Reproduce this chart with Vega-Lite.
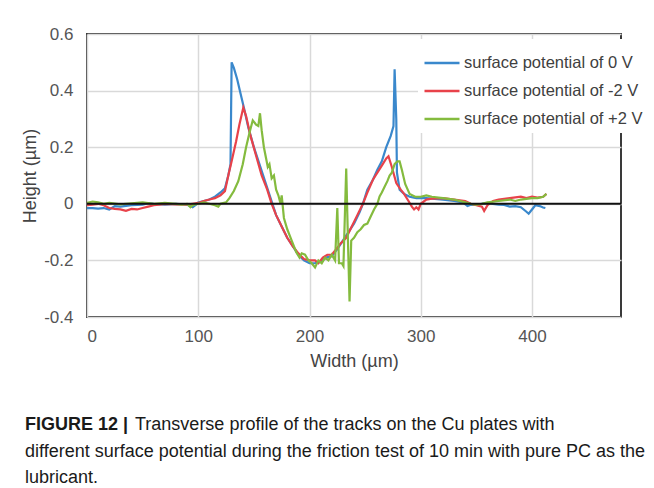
{
  "$schema": "https://vega.github.io/schema/vega-lite/v6.json",
  "autosize": "none",
  "width": 534,
  "height": 283,
  "padding": {"left": 87, "top": 34, "right": 33, "bottom": 171},
  "background": "white",
  "config": {
    "font": "Liberation Sans",
    "view": {"stroke": "#3a3a3a", "strokeWidth": 2},
    "axis": {"labelFont": "Liberation Sans", "titleFont": "Liberation Sans", "labelFontSize": 17, "titleFontSize": 18, "labelColor": "#555555", "titleColor": "#444444", "titleFontWeight": "normal", "gridColor": "#d9d9d9", "gridWidth": 1.5, "ticks": false, "domain": false}
  },
  "title": {
    "text": "FIGURE 12 |",
    "orient": "bottom",
    "anchor": "start",
    "frame": "group",
    "dx": -62,
    "offset": 46,
    "font": "Liberation Sans",
    "fontSize": 18,
    "fontWeight": "bold",
    "color": "#1a1a1a",
    "subtitle": ["\u200b\u00a0\u00a0\u00a0\u00a0\u00a0\u00a0\u00a0\u00a0\u00a0\u00a0\u00a0\u00a0\u00a0\u00a0\u00a0\u00a0\u00a0\u00a0\u00a0\u00a0\u00a0\u00a0Transverse profile of the tracks on the Cu plates with", "different surface potential during the friction test of 10 min with pure PC as the", "lubricant."],
    "subtitleFont": "Liberation Sans",
    "subtitleFontSize": 18,
    "subtitleColor": "#1a1a1a",
    "subtitleLineHeight": 26.5,
    "subtitlePadding": -18
  },
  "datasets": {
    "profiles": [
      {"s":"0 V","x":0,"y":-0.015},{"s":"0 V","x":5,"y":-0.015},{"s":"0 V","x":10,"y":-0.017},{"s":"0 V","x":15,"y":-0.015},{"s":"0 V","x":20,"y":-0.02},{"s":"0 V","x":25,"y":-0.008},{"s":"0 V","x":30,"y":-0.01},{"s":"0 V","x":40,"y":-0.005},{"s":"0 V","x":50,"y":-0.003},{"s":"0 V","x":55,"y":0.002},{"s":"0 V","x":60,"y":0},{"s":"0 V","x":70,"y":-0.003},{"s":"0 V","x":80,"y":0},{"s":"0 V","x":90,"y":-0.003},{"s":"0 V","x":95,"y":-0.012},{"s":"0 V","x":98,"y":-0.003},{"s":"0 V","x":100,"y":0.005},{"s":"0 V","x":105,"y":0.01},{"s":"0 V","x":110,"y":0.015},{"s":"0 V","x":115,"y":0.025},{"s":"0 V","x":120,"y":0.04},{"s":"0 V","x":124,"y":0.055},{"s":"0 V","x":127,"y":0.1},{"s":"0 V","x":129,"y":0.14},{"s":"0 V","x":130,"y":0.5},{"s":"0 V","x":132,"y":0.48},{"s":"0 V","x":135,"y":0.44},{"s":"0 V","x":138,"y":0.39},{"s":"0 V","x":141,"y":0.34},{"s":"0 V","x":145,"y":0.27},{"s":"0 V","x":150,"y":0.2},{"s":"0 V","x":155,"y":0.14},{"s":"0 V","x":160,"y":0.08},{"s":"0 V","x":165,"y":0.02},{"s":"0 V","x":170,"y":-0.04},{"s":"0 V","x":175,"y":-0.08},{"s":"0 V","x":180,"y":-0.12},{"s":"0 V","x":185,"y":-0.15},{"s":"0 V","x":190,"y":-0.18},{"s":"0 V","x":195,"y":-0.2},{"s":"0 V","x":200,"y":-0.21},{"s":"0 V","x":205,"y":-0.21},{"s":"0 V","x":210,"y":-0.205},{"s":"0 V","x":215,"y":-0.19},{"s":"0 V","x":220,"y":-0.185},{"s":"0 V","x":225,"y":-0.16},{"s":"0 V","x":230,"y":-0.13},{"s":"0 V","x":235,"y":-0.1},{"s":"0 V","x":240,"y":-0.07},{"s":"0 V","x":245,"y":-0.03},{"s":"0 V","x":248,"y":0},{"s":"0 V","x":252,"y":0.05},{"s":"0 V","x":257,"y":0.085},{"s":"0 V","x":261,"y":0.12},{"s":"0 V","x":265,"y":0.15},{"s":"0 V","x":269,"y":0.2},{"s":"0 V","x":273,"y":0.24},{"s":"0 V","x":275.5,"y":0.275},{"s":"0 V","x":276.5,"y":0.475},{"s":"0 V","x":278,"y":0.3},{"s":"0 V","x":278.6,"y":0.11},{"s":"0 V","x":281,"y":0.05},{"s":"0 V","x":285,"y":0.035},{"s":"0 V","x":290,"y":0.025},{"s":"0 V","x":296,"y":0.02},{"s":"0 V","x":300,"y":0.02},{"s":"0 V","x":305,"y":0.02},{"s":"0 V","x":310,"y":0.018},{"s":"0 V","x":320,"y":0.015},{"s":"0 V","x":330,"y":0.01},{"s":"0 V","x":338,"y":0.005},{"s":"0 V","x":342,"y":-0.008},{"s":"0 V","x":345,"y":-0.003},{"s":"0 V","x":350,"y":-0.004},{"s":"0 V","x":355,"y":0},{"s":"0 V","x":360,"y":0.003},{"s":"0 V","x":365,"y":0},{"s":"0 V","x":370,"y":-0.003},{"s":"0 V","x":375,"y":-0.004},{"s":"0 V","x":380,"y":-0.01},{"s":"0 V","x":385,"y":-0.008},{"s":"0 V","x":390,"y":-0.012},{"s":"0 V","x":395,"y":-0.028},{"s":"0 V","x":397,"y":-0.035},{"s":"0 V","x":400,"y":-0.02},{"s":"0 V","x":403,"y":-0.005},{"s":"0 V","x":407,"y":-0.008},{"s":"0 V","x":410,"y":-0.013},{"s":"0 V","x":412,"y":-0.015},

      {"s":"-2 V","x":0,"y":-0.005},{"s":"-2 V","x":5,"y":-0.003},{"s":"-2 V","x":10,"y":0},{"s":"-2 V","x":15,"y":-0.005},{"s":"-2 V","x":20,"y":-0.015},{"s":"-2 V","x":25,"y":-0.018},{"s":"-2 V","x":30,"y":-0.02},{"s":"-2 V","x":35,"y":-0.025},{"s":"-2 V","x":40,"y":-0.018},{"s":"-2 V","x":45,"y":-0.02},{"s":"-2 V","x":50,"y":-0.015},{"s":"-2 V","x":55,"y":-0.01},{"s":"-2 V","x":60,"y":-0.005},{"s":"-2 V","x":65,"y":-0.003},{"s":"-2 V","x":70,"y":0},{"s":"-2 V","x":80,"y":-0.002},{"s":"-2 V","x":90,"y":-0.003},{"s":"-2 V","x":95,"y":0},{"s":"-2 V","x":100,"y":0.003},{"s":"-2 V","x":105,"y":0.01},{"s":"-2 V","x":110,"y":0.015},{"s":"-2 V","x":115,"y":0.02},{"s":"-2 V","x":120,"y":0.03},{"s":"-2 V","x":124,"y":0.045},{"s":"-2 V","x":127,"y":0.1},{"s":"-2 V","x":130,"y":0.15},{"s":"-2 V","x":134,"y":0.22},{"s":"-2 V","x":137,"y":0.28},{"s":"-2 V","x":140.5,"y":0.34},{"s":"-2 V","x":143,"y":0.31},{"s":"-2 V","x":147,"y":0.24},{"s":"-2 V","x":152,"y":0.17},{"s":"-2 V","x":157,"y":0.1},{"s":"-2 V","x":162,"y":0.05},{"s":"-2 V","x":166,"y":0},{"s":"-2 V","x":170,"y":-0.04},{"s":"-2 V","x":175,"y":-0.08},{"s":"-2 V","x":180,"y":-0.12},{"s":"-2 V","x":185,"y":-0.15},{"s":"-2 V","x":190,"y":-0.175},{"s":"-2 V","x":195,"y":-0.195},{"s":"-2 V","x":200,"y":-0.2},{"s":"-2 V","x":205,"y":-0.2},{"s":"-2 V","x":208,"y":-0.21},{"s":"-2 V","x":212,"y":-0.19},{"s":"-2 V","x":216,"y":-0.18},{"s":"-2 V","x":220,"y":-0.18},{"s":"-2 V","x":224,"y":-0.16},{"s":"-2 V","x":228,"y":-0.14},{"s":"-2 V","x":233,"y":-0.12},{"s":"-2 V","x":238,"y":-0.08},{"s":"-2 V","x":243,"y":-0.04},{"s":"-2 V","x":248,"y":0},{"s":"-2 V","x":252,"y":0.04},{"s":"-2 V","x":257,"y":0.085},{"s":"-2 V","x":261,"y":0.11},{"s":"-2 V","x":265,"y":0.135},{"s":"-2 V","x":269,"y":0.16},{"s":"-2 V","x":271,"y":0.168},{"s":"-2 V","x":274,"y":0.13},{"s":"-2 V","x":278,"y":0.073},{"s":"-2 V","x":282,"y":0.05},{"s":"-2 V","x":285,"y":0.035},{"s":"-2 V","x":289,"y":0.01},{"s":"-2 V","x":292,"y":-0.01},{"s":"-2 V","x":294,"y":-0.02},{"s":"-2 V","x":296,"y":-0.012},{"s":"-2 V","x":298,"y":-0.02},{"s":"-2 V","x":300,"y":0},{"s":"-2 V","x":305,"y":0.015},{"s":"-2 V","x":310,"y":0.018},{"s":"-2 V","x":320,"y":0.02},{"s":"-2 V","x":330,"y":0.015},{"s":"-2 V","x":340,"y":0.01},{"s":"-2 V","x":345,"y":0},{"s":"-2 V","x":350,"y":-0.005},{"s":"-2 V","x":355,"y":-0.01},{"s":"-2 V","x":357,"y":-0.025},{"s":"-2 V","x":360,"y":-0.005},{"s":"-2 V","x":365,"y":0.01},{"s":"-2 V","x":370,"y":0.015},{"s":"-2 V","x":380,"y":0.02},{"s":"-2 V","x":390,"y":0.025},{"s":"-2 V","x":395,"y":0.02},{"s":"-2 V","x":400,"y":0.025},{"s":"-2 V","x":405,"y":0.022},{"s":"-2 V","x":410,"y":0.025},{"s":"-2 V","x":413,"y":0.035},

      {"s":"+2 V","x":0,"y":0.003},{"s":"+2 V","x":5,"y":0.008},{"s":"+2 V","x":10,"y":0.005},{"s":"+2 V","x":15,"y":0},{"s":"+2 V","x":20,"y":0.003},{"s":"+2 V","x":30,"y":-0.002},{"s":"+2 V","x":40,"y":0.002},{"s":"+2 V","x":50,"y":0.005},{"s":"+2 V","x":60,"y":0},{"s":"+2 V","x":70,"y":0.003},{"s":"+2 V","x":80,"y":0},{"s":"+2 V","x":85,"y":-0.003},{"s":"+2 V","x":90,"y":0},{"s":"+2 V","x":93,"y":-0.012},{"s":"+2 V","x":95,"y":-0.005},{"s":"+2 V","x":100,"y":0},{"s":"+2 V","x":105,"y":0.005},{"s":"+2 V","x":110,"y":0},{"s":"+2 V","x":115,"y":-0.005},{"s":"+2 V","x":118,"y":-0.01},{"s":"+2 V","x":120,"y":0},{"s":"+2 V","x":125,"y":0.005},{"s":"+2 V","x":128,"y":0.02},{"s":"+2 V","x":132,"y":0.045},{"s":"+2 V","x":136,"y":0.08},{"s":"+2 V","x":140,"y":0.14},{"s":"+2 V","x":143,"y":0.2},{"s":"+2 V","x":146,"y":0.25},{"s":"+2 V","x":149,"y":0.295},{"s":"+2 V","x":152,"y":0.28},{"s":"+2 V","x":154,"y":0.275},{"s":"+2 V","x":155.5,"y":0.32},{"s":"+2 V","x":157,"y":0.26},{"s":"+2 V","x":159,"y":0.2},{"s":"+2 V","x":161,"y":0.16},{"s":"+2 V","x":162.5,"y":0.13},{"s":"+2 V","x":164,"y":0.14},{"s":"+2 V","x":166,"y":0.09},{"s":"+2 V","x":168,"y":0.1},{"s":"+2 V","x":170,"y":0.05},{"s":"+2 V","x":172,"y":0.03},{"s":"+2 V","x":174,"y":0},{"s":"+2 V","x":175,"y":0.03},{"s":"+2 V","x":177,"y":-0.05},{"s":"+2 V","x":180,"y":-0.09},{"s":"+2 V","x":184,"y":-0.13},{"s":"+2 V","x":188,"y":-0.17},{"s":"+2 V","x":191,"y":-0.19},{"s":"+2 V","x":193,"y":-0.175},{"s":"+2 V","x":196,"y":-0.18},{"s":"+2 V","x":199,"y":-0.2},{"s":"+2 V","x":202,"y":-0.21},{"s":"+2 V","x":205,"y":-0.225},{"s":"+2 V","x":208,"y":-0.2},{"s":"+2 V","x":211,"y":-0.21},{"s":"+2 V","x":214,"y":-0.19},{"s":"+2 V","x":217,"y":-0.2},{"s":"+2 V","x":220,"y":-0.18},{"s":"+2 V","x":223,"y":-0.2},{"s":"+2 V","x":225,"y":-0.015},{"s":"+2 V","x":226.5,"y":-0.21},{"s":"+2 V","x":229,"y":-0.21},{"s":"+2 V","x":230.5,"y":-0.22},{"s":"+2 V","x":233,"y":0.125},{"s":"+2 V","x":234.5,"y":-0.12},{"s":"+2 V","x":236,"y":-0.345},{"s":"+2 V","x":237.5,"y":-0.13},{"s":"+2 V","x":240,"y":-0.12},{"s":"+2 V","x":243,"y":-0.1},{"s":"+2 V","x":246,"y":-0.09},{"s":"+2 V","x":249,"y":-0.075},{"s":"+2 V","x":252,"y":-0.07},{"s":"+2 V","x":255,"y":-0.045},{"s":"+2 V","x":258,"y":-0.02},{"s":"+2 V","x":261,"y":0},{"s":"+2 V","x":263,"y":0.026},{"s":"+2 V","x":265,"y":0.04},{"s":"+2 V","x":267.5,"y":0.06},{"s":"+2 V","x":270,"y":0.08},{"s":"+2 V","x":272,"y":0.1},{"s":"+2 V","x":274,"y":0.11},{"s":"+2 V","x":276.5,"y":0.14},{"s":"+2 V","x":279,"y":0.15},{"s":"+2 V","x":281,"y":0.15},{"s":"+2 V","x":283,"y":0.12},{"s":"+2 V","x":286,"y":0.07},{"s":"+2 V","x":290,"y":0.035},{"s":"+2 V","x":295,"y":0.025},{"s":"+2 V","x":300,"y":0.025},{"s":"+2 V","x":305,"y":0.03},{"s":"+2 V","x":310,"y":0.025},{"s":"+2 V","x":320,"y":0.02},{"s":"+2 V","x":330,"y":0.015},{"s":"+2 V","x":340,"y":0.005},{"s":"+2 V","x":345,"y":0},{"s":"+2 V","x":350,"y":-0.003},{"s":"+2 V","x":355,"y":0},{"s":"+2 V","x":360,"y":0.005},{"s":"+2 V","x":370,"y":0.01},{"s":"+2 V","x":380,"y":0.015},{"s":"+2 V","x":385,"y":0.01},{"s":"+2 V","x":390,"y":0.015},{"s":"+2 V","x":400,"y":0.02},{"s":"+2 V","x":405,"y":0.02},{"s":"+2 V","x":410,"y":0.025},{"s":"+2 V","x":413,"y":0.035}
    ],
    "zero": [{"y": 0}]
  },
  "layer": [
    {
      "data": {"name": "profiles"},
      "mark": {"type": "line", "strokeWidth": 2.2, "clip": true},
      "encoding": {
        "x": {"field": "x", "type": "quantitative", "scale": {"domain": [0, 480], "nice": false},
              "axis": {"values": [0, 100, 200, 300, 400], "title": "Width (µm)", "labelPadding": 11, "titlePadding": 8}},
        "y": {"field": "y", "type": "quantitative", "scale": {"domain": [-0.4, 0.6], "nice": false},
              "axis": {"values": [-0.4, -0.2, 0, 0.2, 0.4, 0.6], "title": "Height (µm)", "labelPadding": 14, "titlePadding": 4,
                       "labelExpr": "replace(format(datum.value, '.1~f'), '\u2212', '-')"}},
        "color": {"field": "s", "type": "nominal",
                  "scale": {"domain": ["0 V", "-2 V", "+2 V"], "range": ["#3a88cc", "#e8424a", "#84bb3e"]},
                  "legend": {"title": null, "orient": "none", "legendX": 331, "legendY": 5,
                             "labelExpr": "'surface potential of ' + datum.label",
                             "symbolType": "stroke", "symbolSize": 1225, "symbolStrokeWidth": 2.5,
                             "labelFont": "Liberation Sans", "labelFontSize": 16.5, "labelColor": "#404040", "labelOffset": 3, "labelLimit": 260,
                             "fillColor": "white", "padding": 5, "rowPadding": -7}}
      }
    },
    {
      "data": {"name": "zero"},
      "mark": {"type": "rule", "color": "#111111", "strokeWidth": 2},
      "encoding": {"y": {"field": "y", "type": "quantitative"}}
    }
  ]
}
